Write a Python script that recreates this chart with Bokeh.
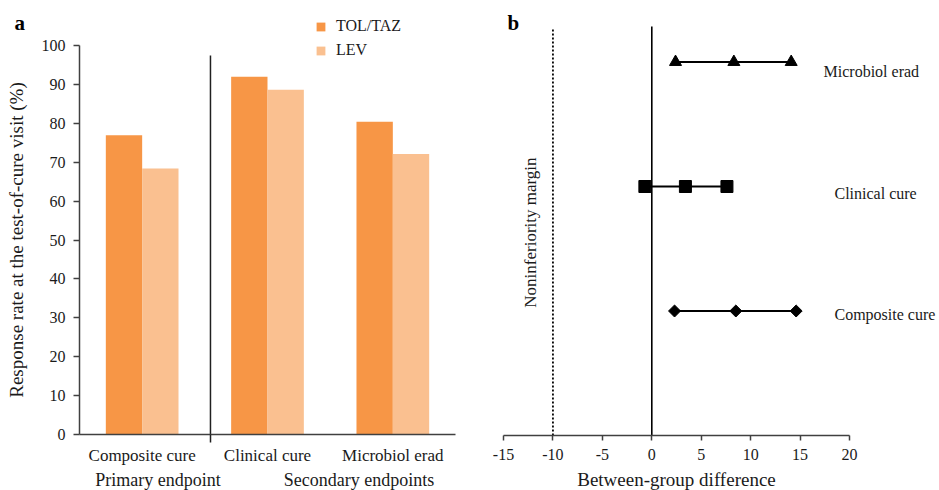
import numpy as np
from bokeh.plotting import figure
from bokeh.layouts import row
from bokeh.models import (Range1d, FixedTicker, Legend, LegendItem, Label, LinearAxis)
from bokeh.core.properties import value
from bokeh.embed import file_html
from bokeh.resources import INLINE

# ---------------- data ----------------
categories = ["Composite cure", "Clinical cure", "Microbiol erad"]
tol_taz = [76.9, 92.0, 80.4]
lev = [68.4, 88.6, 72.1]
y_ticks = [0, 10, 20, 30, 40, 50, 60, 70, 80, 90, 100]
endpoint_groups = ["Primary endpoint", "Secondary endpoints"]

diff_labels = ["Composite cure", "Clinical cure", "Microbiol erad"]
diff_est = [8.5, 3.4, 8.3]
diff_low = [2.3, -0.7, 2.4]
diff_high = [14.6, 7.6, 14.1]
x_ticks = [-15, -10, -5, 0, 5, 10, 15, 20]
margin_value = -10

FONT = "Liberation Serif"
C_TOL = "#F79646"
C_LEV = "#FAC090"
AX = "#404040"
TXT = "#1a1a1a"

# ---------------- panel a ----------------
pa = figure(width=480, height=490, output_backend="svg", toolbar_location=None,
            x_range=Range1d(-0.6303, 3.1995), y_range=Range1d(-14.396, 111.57),
            min_border_left=0, min_border_right=0, min_border_top=0,
            min_border_bottom=0)
pa.outline_line_color = None
pa.grid.visible = False

centers = np.arange(len(categories)) + 0.5
bw = 0.29
r_tol = pa.vbar(x=centers - bw / 2, top=tol_taz, width=bw, bottom=0,
                fill_color=C_TOL, line_color=None)
r_lev = pa.vbar(x=centers + bw / 2, top=lev, width=bw, bottom=0,
                fill_color=C_LEV, line_color=None)

divider_x = 1.045
pa.segment(x0=[divider_x], y0=[0], x1=[divider_x], y1=[97.4], line_color="#202020", line_width=1.5)

xa = pa.xaxis[0]
xa.fixed_location = 0
xa.bounds = (0, 3)
xa.ticker = FixedTicker(ticks=list(centers), minor_ticks=[divider_x])
xa.major_label_overrides = {float(c): lab for c, lab in zip(centers, categories)}
xa.axis_line_color = AX
xa.axis_line_width = 1.5
xa.major_tick_line_color = None
xa.major_tick_out = 0
xa.major_tick_in = 0
xa.minor_tick_line_color = "#202020"
xa.minor_tick_line_width = 1.5
xa.minor_tick_out = 8
xa.minor_tick_in = 0
xa.major_label_standoff = 3
xa.major_label_text_font = FONT
xa.major_label_text_font_size = "17px"
xa.major_label_text_color = TXT

group_pos = [0.626, 2.23]
xa2 = LinearAxis(ticker=FixedTicker(ticks=group_pos), fixed_location=0,
                 major_label_overrides={p: g for p, g in zip(group_pos, endpoint_groups)},
                 axis_line_color=None, major_tick_line_color=None, minor_tick_line_color=None,
                 major_tick_out=0, major_tick_in=0, major_label_standoff=35,
                 major_label_text_font=FONT, major_label_text_font_size="18px",
                 major_label_text_color=TXT)
pa.add_layout(xa2, "below")

ya = pa.yaxis[0]
ya.fixed_location = 0
ya.ticker = FixedTicker(ticks=y_ticks)
ya.major_label_overrides = {t: str(t) for t in y_ticks}
ya.bounds = (0, 100)
ya.axis_line_color = AX
ya.axis_line_width = 1.5
ya.major_tick_line_color = AX
ya.major_tick_line_width = 1.5
ya.major_tick_out = 6
ya.major_tick_in = 0
ya.minor_tick_line_color = None
ya.major_label_standoff = 8
ya.major_label_text_font = FONT
ya.major_label_text_font_size = "16px"
ya.major_label_text_color = TXT
ya.axis_label = "Response rate at the test-of-cure visit (%)"
ya.axis_label_text_font = FONT
ya.axis_label_text_font_style = "normal"
ya.axis_label_text_font_size = "19px"
ya.axis_label_text_color = TXT
ya.axis_label_standoff = 12

legend = Legend(items=[LegendItem(label="TOL/TAZ", renderers=[r_tol]),
                       LegendItem(label="LEV", renderers=[r_lev])],
                location=(315, 430), orientation="vertical",
                glyph_width=11, glyph_height=11, label_standoff=10,
                label_height=20, spacing=4, padding=0, margin=0,
                label_text_font=FONT, label_text_font_size="16px",
                label_text_color=TXT,
                border_line_color=None, background_fill_alpha=0)
pa.add_layout(legend)

pa.add_layout(Label(x=-0.519, y=105.9, text="a",
                    text_align="left", text_baseline="middle", text_font=FONT,
                    text_font_size="21px", text_font_style="bold", text_color="#000000"))

# ---------------- panel b ----------------
pb = figure(width=459, height=490, output_backend="svg", toolbar_location=None,
            x_range=Range1d(-17.327, 29.1), y_range=Range1d(-0.4418, 3.494),
            y_axis_location=None,
            min_border_left=0, min_border_right=0, min_border_top=0,
            min_border_bottom=0)
pb.outline_line_color = None
pb.grid.visible = False

ypos = np.arange(1, len(diff_labels) + 1)
# noninferiority margin (dotted) and zero line
pb.segment(x0=[margin_value], y0=[0], x1=[margin_value], y1=[3.27],
           line_color="#000000", line_width=1.8, line_dash="2 2")
pb.segment(x0=[0], y0=[0], x1=[0], y1=[3.285], line_color="#000000", line_width=1.6)

pb.segment(x0=diff_low, y0=ypos, x1=diff_high, y1=ypos, line_color="#000000", line_width=2)
markers = ["square", "square", "triangle"]
angles = [np.pi / 4, 0, 0]
sizes = [8.5, 12, 12]
for i in range(len(diff_labels)):
    xs = [diff_low[i], diff_est[i], diff_high[i]]
    pb.scatter(x=xs, y=[ypos[i]] * 3, marker=markers[i], size=sizes[i], angle=angles[i],
               fill_color="#000000", line_color="#000000")

label_x = [18.48, 18.48, 17.37]
label_dy = [-0.028, -0.056, -0.076]
pb.text(x=label_x, y=list(ypos + np.array(label_dy)), text=diff_labels,
        text_font=value(FONT), text_font_size="16px", text_baseline="middle",
        text_align="left", text_color=TXT)

pb.add_layout(Label(x=-12.3, y=1.63, text="Noninferiority margin", angle=np.pi / 2,
                    text_align="center", text_baseline="middle", text_font=FONT,
                    text_font_size="17px", text_color=TXT))
pb.add_layout(Label(x=-14.6, y=3.317, text="b", text_align="left",
                    text_baseline="middle", text_font=FONT, text_font_size="21px",
                    text_font_style="bold", text_color="#000000"))

xb = pb.xaxis[0]
xb.fixed_location = 0
xb.ticker = FixedTicker(ticks=x_ticks)
xb.major_label_overrides = {t: str(t) for t in x_ticks}
xb.bounds = (-15, 20)
xb.axis_line_color = AX
xb.axis_line_width = 1.5
xb.major_tick_line_color = AX
xb.major_tick_line_width = 1.5
xb.major_tick_out = 5
xb.major_tick_in = 0
xb.minor_tick_line_color = None
xb.major_label_standoff = 9
xb.major_label_text_font = FONT
xb.major_label_text_font_size = "16px"
xb.major_label_text_color = TXT
xb.axis_label = "Between-group difference"
xb.axis_label_text_font = FONT
xb.axis_label_text_font_style = "normal"
xb.axis_label_text_font_size = "19px"
xb.axis_label_text_color = TXT
xb.axis_label_standoff = 5

layout = row(pa, pb)
open("out.html", "w").write(file_html(layout, INLINE))
